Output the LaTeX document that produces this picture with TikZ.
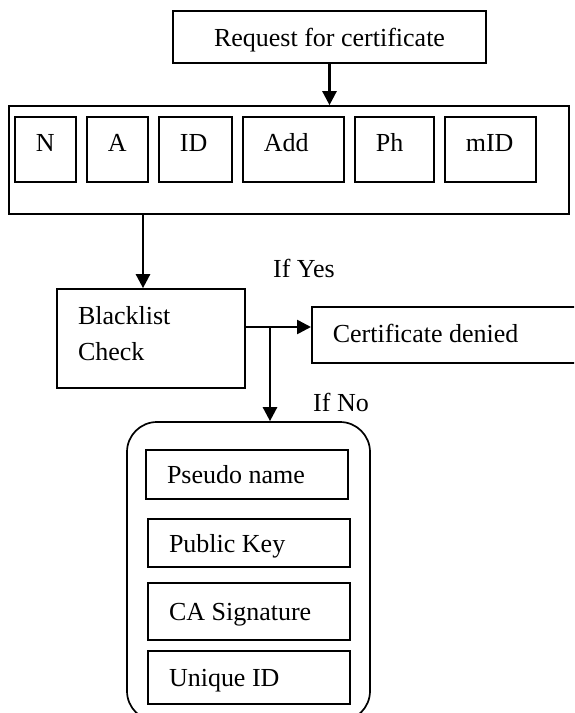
\documentclass[tikz,border=0pt]{standalone}
\usepackage{fontspec}
\setmainfont{Liberation Serif}
\usetikzlibrary{arrows.meta, positioning}
\tikzset{
  box/.style={
    rectangle, draw=black, line width=0.85pt,
    inner sep=0pt, text depth=0pt
  },
  leftbox/.style={
    box, align=flush left, inner xsep=10.5pt
  },
  field/.style={
    leftbox, minimum height=32.5pt,
    text height=0.6em, text depth=0.4em
  },
  item/.style={
    leftbox, text width=80pt
  },
  arr/.style={
    -{Triangle[length=7pt,width=7pt]},
    black, line width=1.3pt
  },
}

\begin{document}
\begin{tikzpicture}[x=0.5pt, y=-0.5pt, node distance=4.65pt,
    font=\fontsize{13pt}{18pt}\selectfont]
  \clip (0,0) rectangle (574,713);
  % request and the form with its fields
  \node[box, minimum width=156.5pt, minimum height=26pt] (req) at (329.5,37)
    {Request for certificate};
  \node[box, minimum width=280pt, minimum height=54pt] (form) at (288.75,160) {};
  \node[field, text width=9.5pt, anchor=west] (n) at (14,149.5) {N};
  \node[field, text width=9.5pt, right=of n] (a) {A};
  \node[field, text width=15.5pt, right=of a] (id) {ID};
  \node[field, text width=29.5pt, right=of id] (add) {Add};
  \node[field, text width=18.5pt, right=of add] (ph) {Ph};
  \node[field, text width=24.5pt, right=of ph] (mid) {mID};
  % check
  \node[leftbox, text width=73pt, minimum height=49.5pt,
        text height=9pt, text depth=23.5pt] (bl) at (151,338.5)
    {Blacklist\\Check};
  \node[leftbox, text width=114pt, minimum height=28pt, text height=7pt,
        anchor=west] (denied) at (311,335) {Certificate denied};
  \node (ifyes) at (304,268.5) {If Yes};
  \node (ifno) at (341,402) {If No};
  % certificate
  \node[box, rounded corners=15pt, minimum width=121.5pt,
        minimum height=149.5pt] (cert) at (248.5,571.5) {};
  \node[item, minimum height=24.5pt] (pseudo) at (247,474.5) {Pseudo name};
  \node[item, minimum height=24pt, below=9.15pt of pseudo, xshift=1pt] (pubkey)
    {Public Key};
  \node[item, minimum height=28.5pt, below=7.15pt of pubkey] (casig) {CA Signature};
  \node[item, minimum height=26.5pt, below=of casig] (uid) {Unique ID};
  \coordinate (split) at (270,327);
  \draw[arr] (req) -- (req |- form.north);
  \draw[arr] ([xshift=-4pt]bl.north |- form.south) -- ([xshift=-4pt]bl.north);
  \draw[arr] (bl.east |- split) -- (denied.west |- split);
  \draw[arr] (split) -- (split |- cert.north);
\end{tikzpicture}
\end{document}
